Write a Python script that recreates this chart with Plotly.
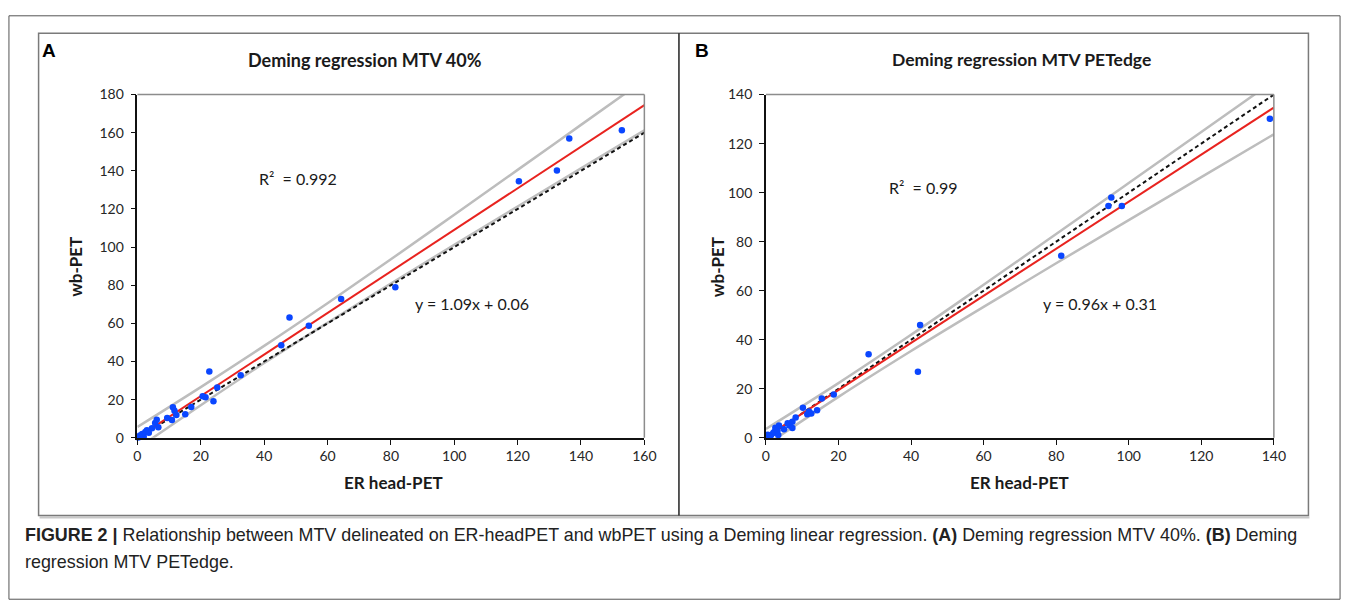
import plotly.graph_objects as go

W, H = 1357, 615

# ---------------- Panel A: Deming regression MTV 40% ----------------
a_x = [0.3, 0.8, 1.5, 2.0, 2.5, 3.0, 3.6, 4.6, 5.6, 6.1, 6.6, 9.4, 10.9,
       11.2, 11.7, 12.3, 15.1, 17.0, 20.6, 21.5, 22.7, 24.0, 25.2, 32.6,
       45.4, 48.0, 54.1, 64.3, 81.4, 120.4, 132.4, 136.3, 152.9]
a_y = [0.2, 1.2, 2.0, 0.5, 3.0, 4.0, 2.6, 5.0, 7.8, 9.5, 5.5, 10.4, 9.3,
       16.0, 14.2, 12.0, 12.4, 16.2, 21.8, 21.3, 34.8, 19.2, 26.4, 32.8,
       48.6, 63.1, 58.8, 72.8, 79.0, 134.5, 140.2, 156.9, 161.3]
a_slope, a_intercept = 1.09, 0.06
a_band_x = [0, 20, 40, 60, 80, 100, 120, 140, 160]
a_band_upper = [5.7, 26.6, 48.2, 70.6, 93.6, 117.0, 140.5, 164.1, 187.7]
a_band_lower = [-5.6, 17.1, 39.2, 60.3, 80.9, 101.2, 121.3, 141.3, 161.2]
a_xticks = [0, 20, 40, 60, 80, 100, 120, 140, 160]
a_yticks = [0, 20, 40, 60, 80, 100, 120, 140, 160, 180]
a_title = "Deming regression MTV 40%"
a_r2 = "R²  = 0.992"
a_eq = "y = 1.09x + 0.06"

# ---------------- Panel B: Deming regression MTV PETedge ----------------
b_x = [0.5, 1.0, 1.4, 2.0, 2.3, 2.6, 3.2, 3.4, 3.6, 5.0, 6.0, 6.5, 7.3,
       7.3, 8.2, 10.2, 11.4, 11.9, 12.5, 14.1, 15.4, 18.7, 28.3, 41.9,
       42.5, 81.4, 94.4, 95.2, 98.1, 138.9]
b_y = [1.3, 0.6, 1.0, 2.0, 2.4, 4.1, 3.0, 1.1, 5.0, 3.5, 5.9, 5.0, 4.0,
       6.6, 8.3, 12.3, 9.6, 10.7, 9.9, 11.2, 16.0, 17.7, 34.1, 26.9,
       46.0, 74.3, 94.5, 98.0, 94.5, 130.1]
b_slope, b_intercept = 0.96, 0.31
b_band_x = [0, 20, 40, 60, 80, 100, 120, 140]
b_band_upper = [3.6, 22.3, 42.0, 62.4, 83.1, 103.9, 124.7, 145.6]
b_band_lower = [-3.0, 16.7, 35.4, 53.4, 71.2, 88.8, 106.3, 123.8]
b_xticks = [0, 20, 40, 60, 80, 100, 120, 140]
b_yticks = [0, 20, 40, 60, 80, 100, 120, 140]
b_title = "Deming regression MTV PETedge"
b_r2 = "R²  = 0.99"
b_eq = "y = 0.96x + 0.31"

x_title = "ER head-PET"
y_title = "wb-PET"
caption_1 = ("<b>FIGURE 2 |</b> Relationship between MTV delineated on ER-headPET and wbPET "
             "using a Deming linear regression. <b>(A)</b> Deming regression MTV 40%. <b>(B)</b> Deming")
caption_2 = "regression MTV PETedge."

PANEL_FONT = "Lato, 'Open Sans', sans-serif"
CAP_FONT = "'Liberation Sans', Arial, sans-serif"
BLUE = "#0a46ff"
RED = "#e8231f"
GREY = "#bdbdbd"


def px(x):
    return x / W


def py(y):
    return 1 - y / H


fig = go.Figure()


def add_panel(xs, ys, slope, intercept, bx, bu, bl, xmax, xa, ya):
    for band in (bu, bl):
        fig.add_trace(go.Scatter(x=bx, y=band, mode="lines", line=dict(color=GREY, width=2.5, shape="spline"),
                                 xaxis=xa, yaxis=ya, showlegend=False, hoverinfo="skip"))
    fig.add_trace(go.Scatter(x=[0, xmax], y=[0, xmax], mode="lines",
                             line=dict(color="#111111", width=2, dash="4px,3px"),
                             xaxis=xa, yaxis=ya, showlegend=False))
    fig.add_trace(go.Scatter(x=[0, xmax], y=[intercept, slope * xmax + intercept], mode="lines",
                             line=dict(color=RED, width=2), xaxis=xa, yaxis=ya, showlegend=False))
    fig.add_trace(go.Scatter(x=xs, y=ys, mode="markers", marker=dict(color=BLUE, size=6.5),
                             cliponaxis=False, xaxis=xa, yaxis=ya, showlegend=False))


add_panel(a_x, a_y, a_slope, a_intercept, a_band_x, a_band_upper, a_band_lower, a_xticks[-1], "x", "y")
add_panel(b_x, b_y, b_slope, b_intercept, b_band_x, b_band_upper, b_band_lower, b_xticks[-1], "x2", "y2")

# plot areas (pixels)
A_L, A_R, B_L, B_R, P_T, P_B = 135, 648, 771, 1285, 88, 441

axis_common = dict(showline=True, linecolor="#111111", linewidth=1.5, ticks="outside", ticklen=5,
                   tickcolor="#111111", tickwidth=1.2, showgrid=False, zeroline=False,
                   tickfont=dict(family=PANEL_FONT, size=14, color="#262626"))

fig.update_layout(
    width=W, height=H, autosize=False,
    margin=dict(l=0, r=0, t=0, b=0),
    paper_bgcolor="white", plot_bgcolor="white",
    xaxis=dict(domain=[px(A_L), px(A_R)], range=[0, a_xticks[-1]], tickvals=a_xticks, anchor="y", **axis_common),
    yaxis=dict(domain=[py(P_B), py(P_T)], range=[0, a_yticks[-1]], tickvals=a_yticks, anchor="x",
               ticklabelstandoff=4, **axis_common),
    xaxis2=dict(domain=[px(B_L), px(B_R)], range=[0, b_xticks[-1]], tickvals=b_xticks, anchor="y2", **axis_common),
    yaxis2=dict(domain=[py(P_B), py(P_T)], range=[0, b_yticks[-1]], tickvals=b_yticks, anchor="x2",
                ticklabelstandoff=4, **axis_common),
)

shapes = []
# outer page border
shapes.append(dict(type="rect", xref="paper", yref="paper", x0=px(5), x1=px(1352), y0=py(607), y1=py(7),
                   line=dict(color="#555555", width=1)))
# inner figure box shadow + box
shapes.append(dict(type="line", xref="paper", yref="paper", x0=px(36), x1=px(1321), y0=py(523), y1=py(523),
                   line=dict(color="#c8c8c8", width=2)))
shapes.append(dict(type="rect", xref="paper", yref="paper", x0=px(35), x1=px(1320), y0=py(521), y1=py(25),
                   line=dict(color="#7a7a7a", width=1.5)))
# divider between panels
shapes.append(dict(type="line", xref="paper", yref="paper", x0=px(683), x1=px(683), y0=py(521), y1=py(25),
                   line=dict(color="#222222", width=1.5)))
# grey top/right borders of plot areas
for xa, ya in (("x", "y"), ("x2", "y2")):
    shapes.append(dict(type="line", xref=f"{xa} domain", yref=f"{ya} domain", x0=0, x1=1, y0=1, y1=1,
                       line=dict(color="#8c8c8c", width=1.5)))
    shapes.append(dict(type="line", xref=f"{xa} domain", yref=f"{ya} domain", x0=1, x1=1, y0=0, y1=1,
                       line=dict(color="#8c8c8c", width=1.5)))
fig.update_layout(shapes=shapes)

ann = []


def text(x, y, t, size, family=PANEL_FONT, xanchor="center", angle=0, color="#1a1a1a"):
    ann.append(dict(xref="paper", yref="paper", x=px(x), y=py(y), text=t, showarrow=False,
                    xanchor=xanchor, yanchor="middle", textangle=angle,
                    font=dict(family=family, size=size, color=color)))


# panel letters
text(46, 43, "<b>A</b>", 19, family=CAP_FONT, color="#000000")
text(706, 43, "<b>B</b>", 19, family=CAP_FONT, color="#000000")
# panel titles
text(365, 52, f"<b>{a_title}</b>", 18)
text(1030, 52, f"<b>{b_title}</b>", 17.5)
# axis titles
text(394, 487, f"<b>{x_title}</b>", 17)
text(1028, 487, f"<b>{x_title}</b>", 17)
text(73, 265, f"<b>{y_title}</b>", 17, angle=-90)
text(722, 265, f"<b>{y_title}</b>", 17, angle=-90)
# stats
text(256, 174, a_r2, 16, xanchor="left")
text(414, 303, a_eq, 16, xanchor="left")
text(894, 184, b_r2, 16, xanchor="left")
text(1049, 303, b_eq, 16, xanchor="left")
# caption
text(19, 541, caption_1, 17.9, family=CAP_FONT, xanchor="left", color="#222222")
text(19, 569, caption_2, 17.9, family=CAP_FONT, xanchor="left", color="#222222")

fig.update_layout(annotations=ann)

fig.write_html("out.html", config={"displayModeBar": False},
               post_script="document.body.style.margin='0';document.body.style.overflow='hidden';")
